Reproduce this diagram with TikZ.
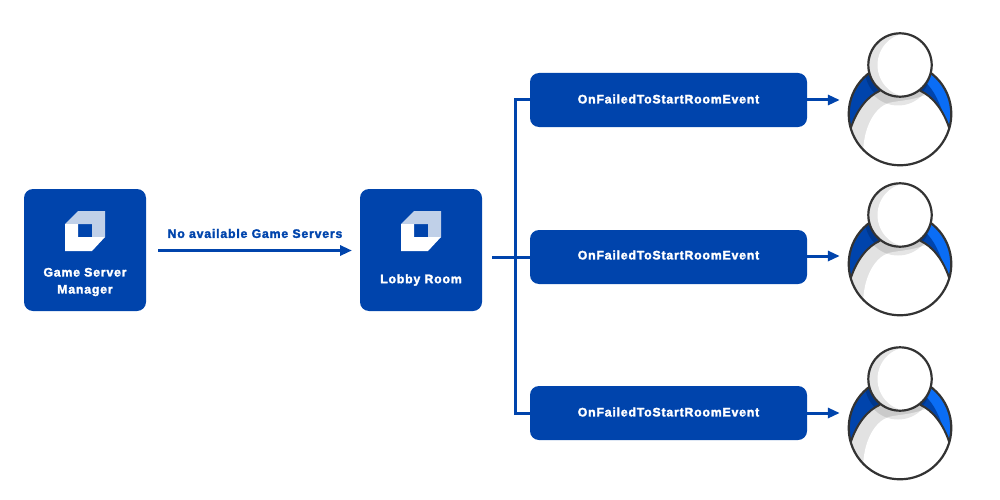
\documentclass[tikz,border=0pt]{standalone}
\usepackage{fontspec}
\setmainfont{Liberation Sans}
\newfontfamily\labelfont[LetterSpace=6.5,FakeBold=2.2]{Liberation Sans Bold}
\usetikzlibrary{arrows.meta}
\definecolor{mainblue}{HTML}{0044AC}
\definecolor{lightblue}{HTML}{C0D0E8}
\definecolor{brightblue}{HTML}{0A6DF5}
\definecolor{outl}{HTML}{333333}
\definecolor{shadowgray}{HTML}{E2E2E2}
\definecolor{headgray}{HTML}{E4E4E4}
\tikzset{
  x=1pt,y=-1pt,
  tilebox/.style={fill=mainblue,rounded corners=9pt,minimum width=122pt,minimum height=122pt,inner sep=0pt},
  eventbox/.style={fill=mainblue,rounded corners=9pt,minimum width=277pt,minimum height=54pt,inner sep=0pt},
  boldlabel/.style={text=white,align=center,inner sep=0pt,font=\fontsize{12.3}{17}\selectfont\labelfont},
  flow/.style={draw=mainblue,line width=3pt},
  arrowflow/.style={flow,-{Triangle[length=12pt,width=10pt]}},
  personanchor/.style={inner sep=0pt,minimum size=0pt}
}
\newcommand{\cubeicon}[2]{%
  \begin{scope}[shift={(#1,#2)}]
    \fill[lightblue] (-20,-26)--(-7,-39)--(20,-39)--(20,-13)--(7,-13)--(7,-26)--cycle;
    \fill[white] (-20,-26)--(-7,-26)--(-7,-13)--(20,-13)--(7,1)--(-20,1)--cycle;
  \end{scope}}
\newcommand{\personfig}[2]{%
  \begin{scope}[shift={(#1,#2)}]
    \begin{scope}
      \clip (0,49) circle (51.3);
      \fill[mainblue] (-60,-10) rectangle (0,110);
      \fill[brightblue] (0,-10) rectangle (60,110);
      % dark strip along right shoulder
      \fill[mainblue] (24,16) .. controls (34,24) and (41,40) .. (46,58) -- (20,60) -- (12,20) -- cycle;
      % shadow thrown by head on the shoulders
      \fill[black,opacity=.18] (-2,5) circle (33);
      % torso
      \begin{scope}
        \clip (-49.3,63.3) .. controls (-43,44) and (-32,31) .. (-20,25.7) -- (20,25.7) .. controls (32,31) and (43,44) .. (49.3,63.3) -- (60,110) -- (-60,110) -- cycle;
        \fill[shadowgray] (-60,10) rectangle (60,110);
        \fill[white] (32,27) .. controls (15,36) and (0,35) .. (-11.7,38) .. controls (-25,43) and (-35,60) .. (-36.7,83) -- (-32,110) -- (60,110) -- (60,20) -- cycle;
        \fill[black,opacity=.1] (-2,7) circle (33.5);
      \end{scope}
    \end{scope}
    \draw[outl,line width=2pt] (-20,25.7) .. controls (-32,31) and (-43,44) .. (-49.3,63.3);
    \draw[outl,line width=2pt] (20,25.7) .. controls (32,31) and (43,44) .. (49.3,63.3);
    \draw[outl,line width=2.2pt] (0,49) circle (51.3);
    % head
    \begin{scope}
      \clip (0,0) circle (31.7);
      \fill[headgray] (-33,-33) rectangle (33,33);
      \fill[white] (9.5,0) circle (32);
    \end{scope}
    \draw[outl,line width=2.2pt] (0,0) circle (31.7);
  \end{scope}}
\begin{document}
\begin{tikzpicture}
\useasboundingbox (0,0) rectangle (1000,500);
\node[tilebox] (gsm) at (85,250) {};
\node[tilebox] (lobby) at (421,250) {};
\cubeicon{85}{250}
\cubeicon{421}{250}
\node[boldlabel] (gsmtext) at (85,282) {Game Server\\Manager};
\node[boldlabel] (lobbytext) at (421,280) {Lobby Room};
\node[eventbox] (e1) at (668.5,100) {};
\node[eventbox] (e2) at (668.5,257) {};
\node[eventbox] (e3) at (668.5,413) {};
\node[boldlabel] (t1) at (668.5,99) {OnFailedToStartRoomEvent};
\node[boldlabel] (t2) at (668.5,255) {OnFailedToStartRoomEvent};
\node[boldlabel] (t3) at (668.5,412) {OnFailedToStartRoomEvent};
\personfig{900}{65}
\personfig{900}{215}
\personfig{900}{379}
\node[personanchor] (p1) at (840,100) {};
\node[personanchor] (p2) at (840,256) {};
\node[personanchor] (p3) at (840,413) {};
\coordinate (gsmout) at (158,250.5);
\coordinate (lobbyin) at (352,250.5);
\coordinate (lobbyout) at (492,257);
\coordinate (bus) at (515,257);
\node[boldlabel,text=mainblue] (nolabel) at (255,233.5) {No available Game Servers};
\draw[arrowflow] (gsmout) -- (lobbyin);
\draw[flow] (lobbyout) -- (e2.west);
\draw[flow] (e1.west) -- (bus |- e1.west) -- (bus |- e3.west) -- (e3.west);
\draw[arrowflow] (e1.east) -- (p1);
\draw[arrowflow] (e2.east |- p2) -- (p2);
\draw[arrowflow] (e3.east) -- (p3);
\end{tikzpicture}
\end{document}
